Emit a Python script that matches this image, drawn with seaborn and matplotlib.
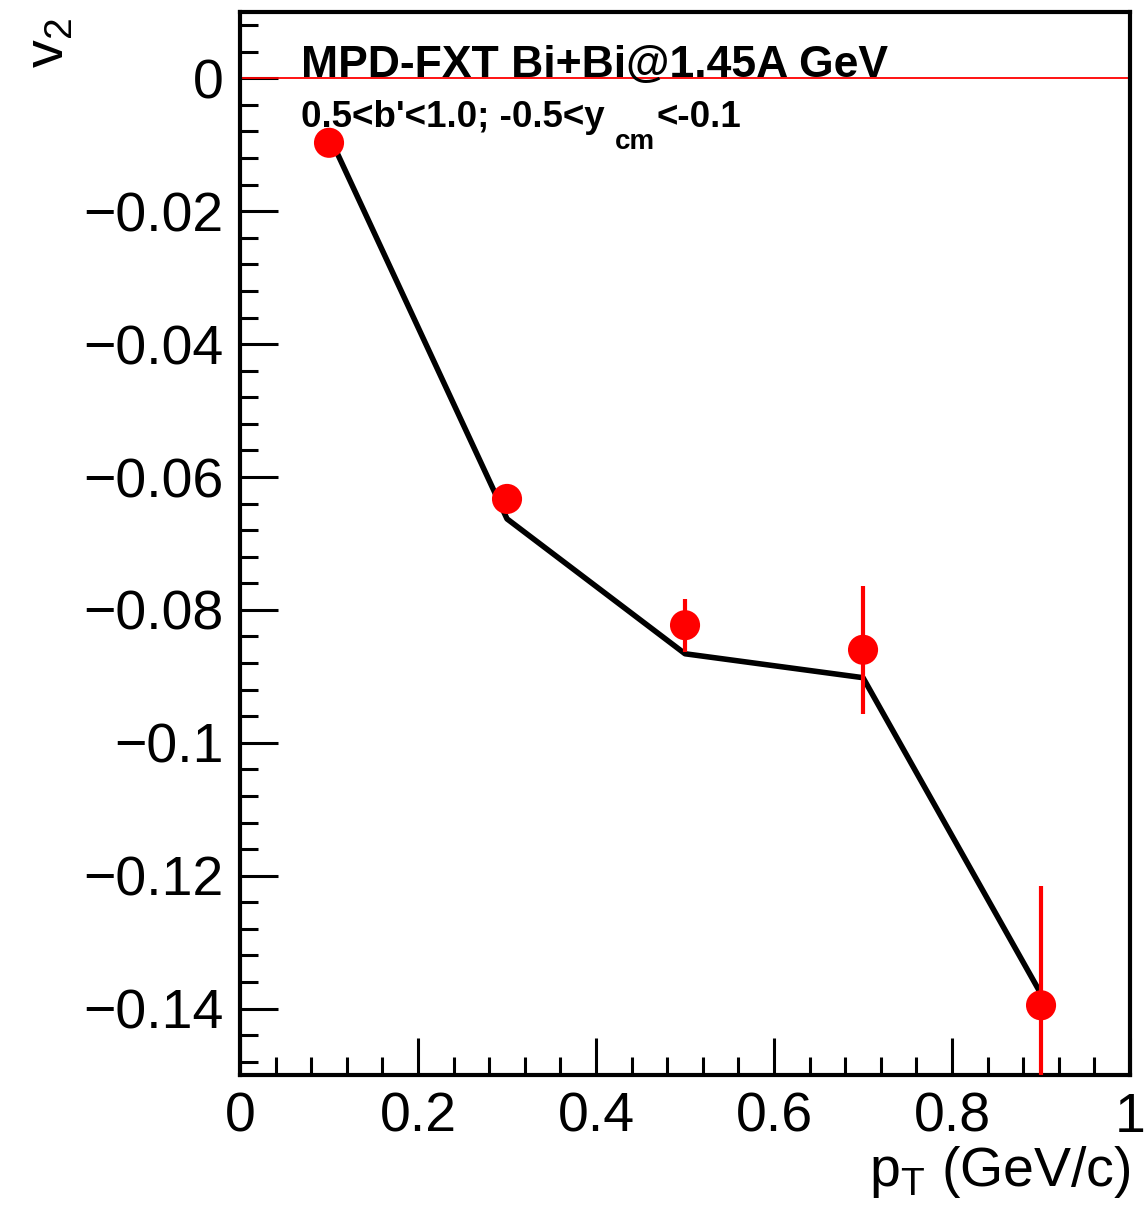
import matplotlib
matplotlib.use("Agg")
import matplotlib.pyplot as plt
from matplotlib.ticker import MultipleLocator, FuncFormatter
import seaborn as sns
import pandas as pd

# data
pt = [0.1, 0.3, 0.5, 0.7, 0.9]
v2_data = [-0.0097, -0.0633, -0.0823, -0.0860, -0.1395]
v2_err = [0.0008, 0.0010, 0.0040, 0.0096, 0.0180]
v2_model = [-0.0086, -0.0663, -0.0866, -0.0902, -0.1378]

title_line1 = "MPD-FXT Bi+Bi@1.45A GeV"
title_line2a = "0.5<b'<1.0; -0.5<y"
title_line2b = "cm"
title_line2c = "<-0.1"

sns.set_theme(style="ticks")
plt.rcParams['font.family'] = ['Liberation Sans', 'DejaVu Sans']
plt.rcParams['mathtext.fontset'] = 'custom'
plt.rcParams['mathtext.rm'] = 'Liberation Sans'
plt.rcParams['mathtext.bf'] = 'Liberation Sans:bold'
plt.rcParams['text.color'] = 'black'
plt.rcParams['axes.edgecolor'] = 'black'
plt.rcParams['xtick.color'] = 'black'
plt.rcParams['ytick.color'] = 'black'
plt.rcParams['axes.labelcolor'] = 'black'

fig = plt.figure(figsize=(11.44, 12.12), dpi=100)
ax = fig.add_axes([0.2098, 0.1130, 0.7780, 0.8772])

df_model = pd.DataFrame({"pt": pt, "v2": v2_model})
sns.lineplot(data=df_model, x="pt", y="v2", color="black", lw=4, ax=ax, zorder=2)
ax.axhline(0, color="red", lw=1.3, zorder=1)
ax.errorbar(pt, v2_data, yerr=v2_err, fmt="none", ecolor="red", elinewidth=3, capsize=0, zorder=3)
df_data = pd.DataFrame({"pt": pt, "v2": v2_data})
sns.scatterplot(data=df_data, x="pt", y="v2", color="red", s=470, edgecolor="none", ax=ax, zorder=4)

ax.set_xlim(0, 1)
ax.set_ylim(-0.15, 0.01)
ax.xaxis.set_major_locator(MultipleLocator(0.2))
ax.xaxis.set_minor_locator(MultipleLocator(0.04))
ax.yaxis.set_major_locator(MultipleLocator(0.02))
ax.yaxis.set_minor_locator(MultipleLocator(0.004))
ax.xaxis.set_major_formatter(FuncFormatter(lambda v, p: "0" if abs(v) < 1e-9 else ("1" if abs(v-1) < 1e-9 else f"{v:g}")))
ax.yaxis.set_major_formatter(FuncFormatter(lambda v, p: "0" if abs(v) < 1e-9 else f"{v:g}".replace("-", "\u2212")))

ax.tick_params(axis="both", which="major", direction="in", length=27, width=2.2, labelsize=40, pad=12)
ax.tick_params(axis="both", which="minor", direction="in", length=13, width=2.2)
ax.tick_params(axis="x", which="both", top=False)
ax.tick_params(axis="y", which="both", right=False)
for s in ax.spines.values():
    s.set_linewidth(3)
    s.set_visible(True)
    s.set_color("black")

ax.set_xlabel("")
ax.set_ylabel("")
fig.text(0.988, 0.010, r"p$_\mathregular{T}$ (GeV/c)", ha="right", va="bottom", fontsize=40)
fig.text(0.020, 0.985, r"v$_\mathregular{2}$", ha="left", va="top", fontsize=40, rotation=90)

ax.text(0.068, 0.950, title_line1, transform=ax.transAxes, fontsize=32, fontweight="bold", ha="left", va="center")
t2 = ax.text(0.068, 0.901, title_line2a, transform=ax.transAxes, fontsize=26.5, fontweight="bold", ha="left", va="center")
fig.canvas.draw()
bb = t2.get_window_extent()
inv = ax.transAxes.inverted()
x_end = inv.transform((bb.x1, bb.y0))[0]
t3 = ax.text(x_end + 0.012, 0.878, title_line2b, transform=ax.transAxes, fontsize=20, fontweight="bold", ha="left", va="center")
fig.canvas.draw()
bb3 = t3.get_window_extent()
x_end3 = inv.transform((bb3.x1, bb3.y0))[0]
ax.text(x_end3 + 0.002, 0.901, title_line2c, transform=ax.transAxes, fontsize=26.5, fontweight="bold", ha="left", va="center")

fig.savefig("out.png", dpi=100)
